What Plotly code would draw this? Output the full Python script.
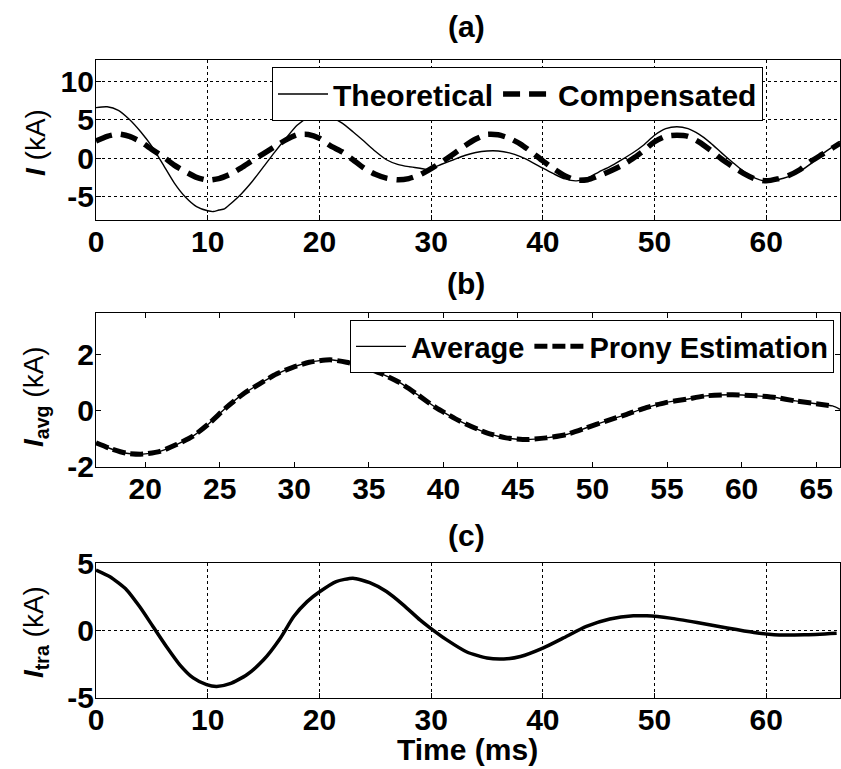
import plotly.graph_objects as go

# ==========================================
# Data (times in ms, kA)
# ==========================================

# (a) theoretical vs compensated current
t_theo = [0, 1, 2, 3, 4, 5, 6, 7, 8, 9, 10, 10.5, 11, 11.5, 12, 13, 14, 15, 16, 17,
          18, 19, 20, 21, 22, 23, 24, 25, 26, 27, 28, 29, 29.7, 30, 31, 32, 33, 34,
          35, 36, 37, 38, 39, 40, 41, 42, 43, 44, 45, 46, 47, 48, 49, 50, 51, 52,
          53, 54, 55, 56, 57, 58, 59, 60, 61, 62, 63, 64, 65, 66, 66.6]
i_theo = [6.6, 6.7, 6.25, 5.05, 3.45, 1.55, -0.8, -3.2, -5.05, -6.3, -6.85, -6.95,
          -6.75, -6.6, -6.0, -4.65, -3.0, -1.1, 0.8, 2.6, 4.3, 5.3, 5.65, 5.4, 4.6,
          3.45, 2.2, 0.9, -0.2, -0.8, -1.1, -1.3, -1.5, -1.35, -0.75, -0.2, 0.35,
          0.75, 0.95, 0.95, 0.7, 0.2, -0.5, -1.3, -2.05, -2.7, -2.95, -2.55, -1.8,
          -1.1, -0.25, 0.65, 1.7, 3.0, 3.85, 4.1, 3.85, 3.1, 2.0, 0.7, -0.55,
          -1.75, -2.6, -3.0, -2.8, -2.4, -1.7, -0.7, 0.55, 1.55, 2.2]

t_comp = list(range(0, 67)) + [66.6]
i_comp = [2.25, 2.85, 3.15, 2.85, 2.15, 1.15, 0.2, -0.9, -1.75, -2.5,
          -2.85, -2.65, -2.1, -1.25, -0.3, 0.6, 1.5, 2.4, 3.05, 3.1,
          2.6, 1.6, 0.85, -0.2, -1.3, -2.1, -2.6, -2.8, -2.65, -2.15,
          -1.35, -0.45, 0.55, 1.6, 2.5, 3.1, 3.05, 2.6, 1.85, 0.8,
          -0.35, -1.4, -2.3, -2.85, -2.8, -2.3, -1.7, -1.0, -0.1, 0.95,
          2.15, 2.85, 3.0, 2.85, 2.1, 1.05, -0.1, -1.1, -2.0, -2.7,
          -2.95, -2.7, -2.25, -1.5, -0.4, 0.5, 1.4, 1.95]

# (b) average current and its Prony estimation
t_avg = [16.7, 17.6, 18.75, 19.85, 21.0, 22.1, 23.2, 24.3, 25.45, 26.55, 27.7, 28.8,
         29.9, 31.0, 32.4, 33.5, 34.6, 35.9, 37.05, 38.3, 39.5, 41.1, 42.9, 44.2,
         45.6, 46.9, 48.25, 49.6, 50.9, 52.3, 53.6, 54.9, 56.3, 57.6, 59.4, 61.0,
         62.3, 63.6, 65.0, 66.1, 66.6]
i_avg = [-1.15, -1.34, -1.52, -1.55, -1.45, -1.21, -0.91, -0.45, 0.12, 0.59, 0.97,
         1.31, 1.55, 1.73, 1.82, 1.73, 1.58, 1.31, 1.01, 0.56, 0.11, -0.37, -0.79,
         -0.97, -1.03, -0.97, -0.85, -0.61, -0.37, -0.13, 0.11, 0.29, 0.41, 0.53,
         0.57, 0.53, 0.47, 0.35, 0.25, 0.17, 0.05]
t_prony = t_avg[:-1]
i_prony = i_avg[:-1]

# (c) transient current
t_tra = [0, 1.25, 2.75, 3.9, 5.1, 6.3, 7.5, 8.7, 9.9, 10.8, 12.0, 13.5, 15.0, 16.5,
         17.7, 18.9, 20.05, 21.5, 23.0, 24.5, 26.0, 27.5, 29.0, 29.9, 31.4, 33.2,
         35.0, 36.5, 38.0, 40.0, 41.8, 43.9, 46.0, 48.1, 49.3, 51.4, 53.8, 56.5,
         58.9, 60.7, 63.4, 66.3]
i_tra = [4.5, 4.0, 3.02, 1.78, 0.3, -1.19, -2.55, -3.53, -4.03, -4.16, -3.96, -3.29,
         -2.18, -0.57, 1.04, 2.15, 2.9, 3.64, 3.89, 3.56, 2.9, 1.91, 0.79, 0.2,
         -0.7, -1.6, -2.05, -2.12, -1.93, -1.31, -0.57, 0.3, 0.85, 1.09, 1.09,
         0.92, 0.59, 0.18, -0.15, -0.32, -0.32, -0.2]

# tick values per panel
ticks_t = [0, 10, 20, 30, 40, 50, 60]
ticks_t_b = [20, 25, 30, 35, 40, 45, 50, 55, 60, 65]
ticks_a = [-5, 0, 5, 10]
ticks_b = [-2, 0, 2]
ticks_c = [-5, 0, 5]

FONT = "Liberation Sans, Arial, sans-serif"
W, H = 841, 769
L_MARGIN = 96


def px_x(px):
    # pixel column -> paper x
    return (px - L_MARGIN) / (W - L_MARGIN - 1)


def px_y(px):
    # pixel row -> paper y
    return 1 - px / H


def labels(vals):
    # plain hyphen for negatives, like the original figure
    return [str(v) for v in vals]


fig = go.Figure()

# ---- panel (a)
fig.add_trace(go.Scatter(x=t_theo, y=i_theo, mode="lines", name="Theoretical",
                         line=dict(color="black", width=1.4, shape="spline", smoothing=0.6),
                         xaxis="x", yaxis="y", legend="legend"))
fig.add_trace(go.Scatter(x=t_comp, y=i_comp, mode="lines", name="Compensated",
                         line=dict(color="black", width=5.5, dash="17px,9px", shape="spline", smoothing=0.6),
                         xaxis="x", yaxis="y", legend="legend"))

# ---- panel (b)
fig.add_trace(go.Scatter(x=t_avg, y=i_avg, mode="lines", name="Average",
                         line=dict(color="black", width=1.4, shape="spline", smoothing=0.6),
                         xaxis="x2", yaxis="y2", legend="legend2"))
fig.add_trace(go.Scatter(x=t_prony, y=i_prony, mode="lines", name="Prony Estimation",
                         line=dict(color="black", width=5, dash="13px,5px", shape="spline", smoothing=0.6),
                         xaxis="x2", yaxis="y2", legend="legend2"))

# ---- panel (c)
fig.add_trace(go.Scatter(x=t_tra, y=i_tra, mode="lines", showlegend=False,
                         line=dict(color="black", width=3.5, shape="spline", smoothing=0.6),
                         xaxis="x3", yaxis="y3"))

tick_font = dict(family=FONT, size=30, color="black", weight="bold")
common = dict(showline=True, linecolor="black", linewidth=1.3, mirror=True,
              ticks="inside", ticklen=5, tickcolor="black", tickfont=tick_font,
              zeroline=False, gridcolor="black", gridwidth=1, griddash="3px,3px",
              automargin=False, ticklabelstandoff=-5)

fig.update_layout(
    width=W, height=H,
    margin=dict(l=L_MARGIN, r=1, t=0, b=0, autoexpand=False),
    paper_bgcolor="white", plot_bgcolor="white",
    xaxis=dict(domain=[0, 1], anchor="y", range=[0, 66.6],
               tickvals=ticks_t, ticktext=labels(ticks_t), showgrid=True, **common),
    yaxis=dict(domain=[px_y(220), px_y(60)], anchor="x", range=[-8.05, 12.8],
               tickvals=ticks_a, ticktext=labels(ticks_a), showgrid=True, **common),
    xaxis2=dict(domain=[0, 1], anchor="y2", range=[16.7, 66.6],
                tickvals=ticks_t_b, ticktext=labels(ticks_t_b), showgrid=False,
                **{**common, "mirror": "ticks"}),
    yaxis2=dict(domain=[px_y(466.7), px_y(312.7)], anchor="x2", range=[-2, 3.5],
                tickvals=ticks_b, ticktext=labels(ticks_b), showgrid=False,
                **{**common, "mirror": "ticks"}),
    xaxis3=dict(domain=[0, 1], anchor="y3", range=[0, 66.6],
                tickvals=ticks_t, ticktext=labels(ticks_t), showgrid=True, **common),
    yaxis3=dict(domain=[px_y(697.7), px_y(563.3)], anchor="x3", range=[-5, 5],
                tickvals=ticks_c, ticktext=labels(ticks_c), showgrid=True, **common),
    legend=dict(x=px_x(272), y=px_y(67), xanchor="left", yanchor="top",
                orientation="h", bgcolor="white", bordercolor="black", borderwidth=1,
                font=dict(family=FONT, size=30, color="black", weight="bold"),
                itemwidth=50, tracegroupgap=0),
    legend2=dict(x=px_x(350), y=px_y(320), xanchor="left", yanchor="top",
                 orientation="h", bgcolor="white", bordercolor="black", borderwidth=1,
                 font=dict(family=FONT, size=29, color="black", weight="bold"),
                 itemwidth=50, tracegroupgap=0),
)

# Panel labels, axis titles
ann_font = dict(family=FONT, size=30, color="black")
for txt, ypx in [("(a)", 27), ("(b)", 283), ("(c)", 535)]:
    fig.add_annotation(text=f"<b>{txt}</b>", x=px_x(466), y=px_y(ypx), xref="paper", yref="paper",
                       showarrow=False, font=ann_font, xanchor="center", yanchor="middle")

ytitles = [("<b><i>I</i></b> (kA)", 143),
           ("<b><i>I</i><sub>avg</sub></b> (kA)", 397),
           ("<b><i>I</i><sub>tra</sub></b> (kA)", 632)]
for txt, ypx in ytitles:
    fig.add_annotation(text=txt, x=px_x(35), y=px_y(ypx), xref="paper", yref="paper",
                       showarrow=False, textangle=-90, font=dict(family=FONT, size=28, color="black"),
                       xanchor="center", yanchor="middle")

fig.add_annotation(text="<b>Time (ms)</b>", x=px_x(467), y=px_y(749), xref="paper", yref="paper",
                   showarrow=False, font=dict(family=FONT, size=30, color="black"),
                   xanchor="center", yanchor="middle")

# the default page body has an 8px margin: drop it so the figure fills the window
fig.write_html("out.html", config={"displayModeBar": False},
               post_script="document.body.style.margin='0px';document.body.style.overflow='hidden';")
